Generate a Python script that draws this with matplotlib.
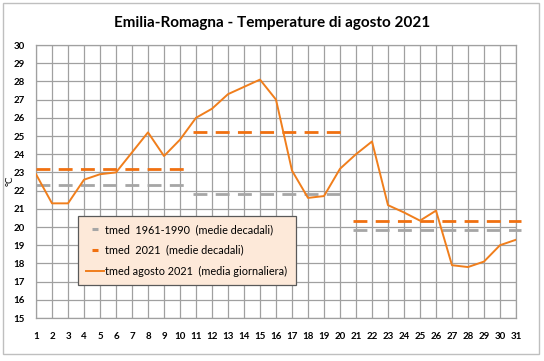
import matplotlib.pyplot as plt
from matplotlib.lines import Line2D
from matplotlib.patches import Rectangle

# daily mean temperature, Emilia-Romagna, August 2021
days = list(range(1, 32))
tmed_2021 = [22.9, 21.3, 21.3, 22.6, 22.9, 23.0, 24.1, 25.2, 23.9, 24.8,
             26.0, 26.5, 27.3, 27.7, 28.1, 27.0, 23.1, 21.6, 21.7, 23.2,
             24.0, 24.7, 21.2, 20.8, 20.35, 20.9, 17.9, 17.8, 18.1, 19.0,
             19.3]

# decadal means (start day, end day of each segment)
dec_start = [1, 10.8, 20.8]
dec_end = [10.4, 20.4, 31.3]
dec_2021 = [23.2, 25.2, 20.35]
dec_6190 = [22.3, 21.8, 19.85]

ORANGE = "#F07E1C"
DASH_OR = "#F07010"
GRAY = "#A6A6A6"
FONT = "Lato"

fig = plt.figure(figsize=(5.44, 3.61), dpi=100)
fig.patches.append(Rectangle((0.006, 0.02), 0.985, 0.972, transform=fig.transFigure,
                             fill=False, edgecolor="#BFBFBF", lw=1.0))
ax = fig.add_axes([0.0662, 0.1191, 0.8823, 0.7562])

for s, e, v in zip(dec_start, dec_end, dec_6190):
    ax.plot([s, e], [v, v], color=GRAY, lw=2.0, dashes=(5, 3), dash_capstyle="butt",
            clip_on=False, zorder=3)
for s, e, v in zip(dec_start, dec_end, dec_2021):
    ax.plot([s, e], [v, v], color=DASH_OR, lw=2.0, dashes=(5, 3), dash_capstyle="butt",
            clip_on=False, zorder=3)
ax.plot(days, tmed_2021, color=ORANGE, lw=1.4, zorder=4)

ax.set_xlim(1, 31)
ax.set_ylim(15, 30)
ax.set_xticks(days)
ax.set_yticks(range(15, 31))
ax.grid(True, color="#A0A0A0", lw=0.9)
ax.set_axisbelow(True)
for sp in ax.spines.values():
    sp.set_color("#A0A0A0")
    sp.set_linewidth(0.9)
ax.tick_params(length=0, labelsize=7)
ax.tick_params(axis="x", pad=10)
ax.tick_params(axis="y", pad=8)
for lab in ax.get_xticklabels() + ax.get_yticklabels():
    lab.set_fontweight("bold")
    lab.set_fontfamily(FONT)

fig.text(0.019, 0.5, "°C", rotation=90, ha="center", va="center",
         fontsize=7, fontfamily=FONT)
fig.text(0.5, 0.935, "Emilia-Romagna - Temperature di agosto 2021", ha="center",
         va="center", fontsize=11, fontweight="bold", fontfamily=FONT)

handles = [
    Line2D([], [], color=GRAY, lw=0, marker="_", markersize=4, mew=2.2),
    Line2D([], [], color=DASH_OR, lw=0, marker="_", markersize=4, mew=2.2),
    Line2D([], [], color=ORANGE, lw=1.4),
]
labels = ["tmed  1961-1990  (medie decadali)",
          "tmed  2021  (medie decadali)",
          "tmed agosto 2021  (media giornaliera)"]
leg = ax.legend(handles, labels, loc="lower left", bbox_to_anchor=(0.088, 0.122),
                prop={"family": FONT, "size": 7.8}, frameon=True, fancybox=False,
                handlelength=1.6, handletextpad=0.15, labelspacing=0.9,
                borderpad=0.75, borderaxespad=0)
leg.get_frame().set_facecolor("#FDE9D9")
leg.get_frame().set_edgecolor("#595959")
leg.get_frame().set_alpha(1)
leg.get_frame().set_linewidth(0.9)
leg.set_zorder(5)

fig.savefig("out.png", dpi=100)
